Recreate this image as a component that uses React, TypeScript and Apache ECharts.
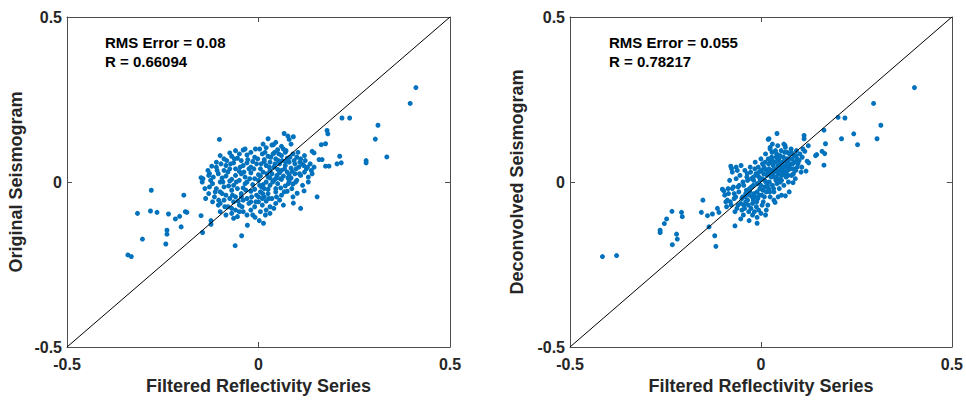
import React, { useEffect, useRef } from "react";
import * as echarts from "echarts";

const tickValues = [-0.5, 0, 0.5];
const xTitle = "Filtered Reflectivity Series";
const yTitles = ["Original Seismogram", "Deconvolved Seismogram"];
const stats = [
  ["RMS Error = 0.08", "R = 0.66094"],
  ["RMS Error = 0.055", "R = 0.78217"],
];
const identityLine = [[-0.5, -0.5], [0.5, 0.5]];

// Filtered reflectivity (x) vs original seismogram (y)
const originalPairs: number[][] = [
  [0.411, 0.286], [0.396, 0.238], [0.218, 0.194], [0.238, 0.194], [0.312, 0.172], [0.305, 0.13],
  [0.335, 0.076], [0.281, 0.065], [0.281, 0.058], [0.212, 0.078], [0.216, 0.058], [0.205, 0.055],
  [0.184, 0.048], [0.175, 0.048], [0.179, 0.156], [0.181, 0.146], [0.175, 0.116], [0.164, 0.113],
  [0.14, 0.093], [0.145, 0.088], [0.158, 0.068], [0.166, 0.068], [0.153, -0.045], [0.119, -0.027],
  [0.11, -0.08], [0.091, -0.064], [0.101, -0.034], [0.067, 0.147], [0.077, 0.139], [0.08, 0.129],
  [0.091, 0.137], [0.025, 0.131], [0.039, 0.113], [-0.102, 0.129], [-0.341, -0.221], [-0.332, -0.226],
  [-0.303, -0.173], [-0.316, -0.095], [-0.282, -0.088], [-0.265, -0.092], [-0.28, -0.025], [-0.242, -0.188],
  [-0.239, -0.146], [-0.239, -0.158], [-0.235, -0.097], [-0.217, -0.112], [-0.206, -0.104], [-0.202, -0.136],
  [-0.195, -0.04], [-0.191, -0.09], [-0.187, -0.092], [-0.15, -0.102], [-0.146, -0.153], [-0.124, -0.117],
  [-0.124, -0.128], [-0.061, -0.193], [-0.044, -0.163], [-0.029, -0.131], [-0.009, -0.107], [0.002, -0.117],
  [0.013, -0.125], [-0.15, 0.013], [-0.147, 0.0], [-0.122, 0.048], [-0.128, 0.026],
  [-0.06, 0.095], [-0.04, 0.097], [-0.075, 0.088], [0.02, 0.104], [0.035, 0.112], [0.05, 0.098],
  [0.06, 0.108], [0.085, 0.115], [-0.02, 0.09], [0.003, 0.1], [0.07, 0.09],
  [-0.09, 0.07], [-0.1, 0.08], [-0.07, 0.078], [-0.055, 0.072], [-0.03, 0.082], [-0.01, 0.075],
  [0.01, 0.085], [0.025, 0.078], [0.045, 0.07], [0.06, 0.08], [0.075, 0.072], [0.09, 0.085],
  [0.1, 0.075], [0.11, 0.07], [0.12, 0.08], [-0.045, 0.065], [0.03, 0.06], [0.015, 0.068],
  [-0.11, 0.045], [-0.085, 0.05], [-0.075, 0.04], [-0.065, 0.058], [-0.04, 0.05], [-0.02, 0.045],
  [-0.005, 0.055], [0.005, 0.04], [0.02, 0.05], [0.04, 0.045], [0.055, 0.055], [0.07, 0.05],
  [0.085, 0.042], [0.095, 0.055], [0.105, 0.045], [0.125, 0.04], [0.135, 0.055], [0.015, 0.062],
  [-0.03, 0.058], [0.06, 0.035], [0.08, 0.06],
  [-0.13, 0.02], [-0.105, 0.025], [-0.095, 0.012], [-0.08, 0.03], [-0.06, 0.02], [-0.05, 0.032],
  [-0.035, 0.015], [-0.02, 0.028], [-0.01, 0.01], [0.0, 0.022], [0.012, 0.03], [0.025, 0.015],
  [0.035, 0.025], [0.045, 0.01], [0.055, 0.028], [0.065, 0.018], [0.075, 0.03], [0.085, 0.012],
  [0.095, 0.025], [0.11, 0.02], [0.12, 0.03], [0.13, 0.015], [0.14, 0.025], [-0.07, 0.008],
  [0.05, 0.038], [0.08, 0.022], [0.03, 0.035],
  [-0.12, -0.005], [-0.1, 0.0], [-0.09, -0.015], [-0.075, 0.003], [-0.065, -0.01], [-0.05, 0.005],
  [-0.04, -0.018], [-0.03, 0.0], [-0.015, -0.008], [0.0, 0.005], [0.008, -0.015], [0.02, 0.0],
  [0.03, -0.01], [0.04, 0.005], [0.05, -0.005], [0.06, 0.008], [0.07, -0.012], [0.08, 0.002],
  [0.09, -0.006], [0.1, 0.005], [0.115, -0.01], [0.13, 0.0], [-0.11, -0.02], [0.015, -0.02],
  [0.045, -0.02], [-0.055, -0.02],
  [-0.13, -0.035], [-0.115, -0.045], [-0.1, -0.03], [-0.085, -0.04], [-0.07, -0.025], [-0.06, -0.045],
  [-0.045, -0.035], [-0.03, -0.05], [-0.02, -0.028], [-0.005, -0.04], [0.005, -0.03], [0.015, -0.045],
  [0.025, -0.035], [0.035, -0.05], [0.045, -0.03], [0.06, -0.04], [0.075, -0.028], [0.09, -0.045],
  [-0.01, -0.022], [0.01, -0.05],
  [-0.12, -0.06], [-0.105, -0.07], [-0.09, -0.055], [-0.08, -0.075], [-0.065, -0.06], [-0.05, -0.07],
  [-0.04, -0.055], [-0.025, -0.065], [-0.01, -0.075], [0.0, -0.06], [0.01, -0.07], [0.02, -0.058],
  [0.03, -0.075], [0.045, -0.065], [0.055, -0.055], [-0.07, -0.08],
  [-0.1, -0.09], [-0.085, -0.1], [-0.07, -0.095], [-0.06, -0.085], [-0.055, -0.105], [-0.04, -0.09],
  [-0.02, -0.085], [0.005, -0.09], [0.02, -0.085], [0.03, -0.095], [-0.065, -0.11],
  [-0.045, 0.025], [-0.025, 0.04], [0.005, 0.018], [0.028, 0.045], [0.048, 0.02], [0.068, 0.04],
  [0.088, 0.032], [-0.06, 0.04], [-0.035, -0.005], [0.025, -0.022], [0.058, -0.018], [0.078, -0.005],
  [-0.015, 0.062], [0.038, 0.085], [0.052, 0.065], [-0.085, 0.018], [-0.095, -0.035], [-0.075, -0.05],
  [-0.045, -0.045], [0.0, -0.045], [0.012, -0.008], [0.098, 0.04], [0.108, 0.06], [0.118, 0.05],
  [0.065, 0.1], [0.042, 0.09], [-0.05, 0.085], [-0.11, 0.06], [-0.125, 0.005], [-0.14, -0.02],
  [0.03, 0.012], [0.07, 0.062], [-0.02, -0.06], [0.04, -0.08], [0.065, -0.07], [-0.03, -0.1],
  [-0.145, 0.01], [-0.138, -0.05], [-0.132, 0.035], [-0.128, -0.015], [-0.118, 0.015], [-0.113, -0.03],
  [-0.108, 0.035], [-0.104, -0.055], [-0.098, 0.055], [-0.093, 0.0], [-0.088, -0.075], [-0.083, 0.065],
  [-0.078, -0.012], [-0.073, 0.055], [-0.068, -0.04], [-0.063, 0.07], [-0.058, 0.0], [-0.053, -0.058],
  [-0.048, 0.045], [-0.043, -0.075], [-0.038, 0.03], [-0.033, -0.025], [-0.028, 0.068], [-0.023, 0.01],
  [-0.018, -0.045], [-0.012, 0.04], [-0.007, -0.06], [-0.002, 0.07], [0.003, -0.01], [0.007, 0.055],
  [0.011, -0.035], [0.017, 0.09], [0.022, 0.025], [0.027, -0.05], [0.032, 0.075], [0.037, 0.0],
  [0.043, 0.055], [0.047, -0.045], [0.053, 0.085], [0.057, 0.01], [0.062, 0.065], [0.067, -0.03],
  [0.072, 0.095], [0.077, 0.012], [0.082, 0.075], [0.087, -0.02], [0.093, 0.065], [0.097, 0.0],
  [0.103, 0.09], [0.107, 0.025], [0.113, 0.055], [0.122, 0.065], [0.128, 0.045], [0.138, 0.035],
  [0.145, 0.045], [-0.008, 0.1], [0.012, 0.115], [0.045, 0.12], [-0.035, 0.1], [-0.05, -0.09],
  [-0.015, -0.1], [0.018, -0.1], [-0.09, 0.035], [-0.1, -0.065],
];

// Filtered reflectivity (x) vs deconvolved seismogram (y)
const deconvolvedPairs: number[][] = [
  [0.402, 0.286], [0.295, 0.238], [0.202, 0.196], [0.22, 0.194], [0.314, 0.172], [0.243, 0.146],
  [0.304, 0.131], [0.211, 0.131], [0.253, 0.113], [0.165, 0.157], [0.169, 0.116], [0.16, 0.093],
  [0.167, 0.086], [0.165, 0.051], [0.143, 0.08], [0.146, 0.083], [0.113, 0.141], [0.113, 0.131],
  [0.124, 0.11], [0.115, 0.093], [0.121, 0.063], [0.125, 0.058], [0.118, 0.033],
  [-0.415, -0.226], [-0.378, -0.223], [-0.232, -0.19], [-0.221, -0.158], [-0.219, -0.173],
  [-0.264, -0.146], [-0.264, -0.153], [-0.253, -0.126], [-0.247, -0.112], [-0.233, -0.089],
  [-0.208, -0.092], [-0.206, -0.105], [-0.152, -0.055], [-0.156, -0.092], [-0.14, -0.102],
  [-0.127, -0.097], [-0.136, -0.136], [-0.121, -0.163], [-0.118, -0.195], [-0.114, -0.08],
  [-0.11, -0.092], [-0.101, -0.022], [-0.097, -0.027], [-0.068, -0.133], [-0.053, -0.112],
  [-0.031, -0.117], [-0.01, -0.125], [-0.01, -0.107], [-0.079, 0.048], [-0.077, 0.041],
  [0.019, 0.129], [0.021, 0.131], [0.042, 0.147], [0.063, 0.111], [0.024, 0.105], [0.064, -0.042],
  [0.037, -0.062], [0.084, -0.002],
  [-0.075, -0.02], [-0.07, -0.05], [-0.065, 0.01], [-0.06, -0.07], [-0.058, -0.03], [-0.055, 0.02],
  [-0.05, -0.085], [-0.048, -0.045], [-0.045, -0.01], [-0.042, 0.035], [-0.04, -0.06], [-0.038, -0.025],
  [-0.035, 0.005], [-0.032, -0.09], [-0.03, -0.04], [-0.028, 0.045], [-0.025, -0.015], [-0.022, -0.065],
  [-0.02, 0.015], [-0.018, -0.035], [-0.015, 0.06], [-0.012, -0.075], [-0.01, -0.005], [-0.008, -0.05],
  [-0.005, 0.03], [-0.003, -0.02], [0.0, -0.095], [0.0, 0.07], [0.002, -0.04], [0.004, 0.01],
  [0.006, -0.06], [0.008, 0.045], [0.01, -0.015], [0.012, 0.085], [0.014, -0.03], [0.016, 0.02],
  [0.018, -0.07], [0.02, 0.055], [0.022, 0.0], [0.024, -0.045], [0.026, 0.035], [0.028, 0.075],
  [0.03, -0.01], [0.032, 0.05], [0.034, -0.03], [0.036, 0.015], [0.038, 0.095], [0.04, 0.04],
  [0.042, -0.005], [0.044, 0.065], [0.046, 0.025], [0.048, -0.02], [0.05, 0.08], [0.052, 0.045],
  [0.054, 0.005], [0.056, 0.06], [0.058, 0.03], [0.06, -0.01], [0.062, 0.09], [0.064, 0.05],
  [0.066, 0.015], [0.068, 0.07], [0.07, 0.035], [0.072, 0.0], [0.075, 0.085], [0.078, 0.055],
  [0.08, 0.02], [0.082, 0.07], [0.085, 0.04], [0.088, 0.06], [0.09, 0.01], [0.092, 0.08],
  [0.095, 0.045], [0.1, 0.065], [0.105, 0.03], [0.108, 0.075], [-0.08, -0.06], [-0.082, 0.005],
  [-0.085, -0.035], [-0.09, -0.075], [-0.068, -0.09], [-0.062, 0.035], [-0.052, 0.05], [-0.046, -0.1],
  [-0.036, 0.025], [-0.026, -0.08], [-0.016, 0.04], [-0.006, -0.085], [0.004, 0.055], [0.014, -0.085],
  [0.024, 0.1], [0.034, -0.055], [0.044, 0.11], [0.054, -0.04], [0.064, 0.105], [0.074, -0.03],
  [-0.01, 0.02], [0.0, -0.01], [0.01, 0.005], [0.02, 0.025], [0.03, 0.02], [-0.02, -0.01],
  [-0.03, -0.02], [0.04, 0.015], [0.05, 0.035], [0.06, 0.045], [-0.04, -0.035], [-0.05, -0.05],
  [0.015, 0.035], [0.025, 0.06], [-0.015, -0.045], [0.035, 0.03], [0.045, 0.05], [0.055, 0.02],
  [-0.025, 0.01], [0.005, -0.025], [-0.035, -0.055], [-0.045, -0.07], [0.065, 0.03], [0.075, 0.05],
  [0.085, 0.025], [-0.06, -0.015], [-0.07, -0.035], [0.095, 0.07], [0.02, -0.02], [0.01, 0.04],
  [-0.005, 0.015], [0.03, 0.065], [-0.02, -0.055], [0.04, 0.075], [0.05, 0.0], [-0.01, -0.03],
  [0.07, 0.06], [0.08, 0.09],
  [-0.095, -0.04], [-0.088, -0.055], [-0.078, -0.07], [-0.072, -0.015], [-0.066, -0.045], [-0.063, -0.08],
  [-0.057, -0.01], [-0.053, -0.065], [-0.047, 0.0], [-0.043, -0.08], [-0.041, -0.045], [-0.037, 0.015],
  [-0.033, -0.07], [-0.029, -0.03], [-0.027, 0.03], [-0.023, -0.045], [-0.019, 0.005], [-0.017, -0.09],
  [-0.013, 0.025], [-0.011, -0.06], [-0.007, 0.045], [-0.004, -0.04], [-0.002, 0.005], [0.001, 0.035],
  [0.003, -0.07], [0.007, 0.025], [0.009, -0.045], [0.011, 0.06], [0.013, 0.0], [0.017, -0.01],
  [0.019, 0.07], [0.021, 0.04], [0.023, -0.03], [0.027, 0.015], [0.029, 0.09], [0.031, 0.035],
  [0.033, -0.02], [0.037, 0.06], [0.039, 0.005], [0.041, 0.085], [0.043, 0.03], [0.047, 0.07],
  [0.049, 0.01], [0.051, 0.055], [0.053, 0.095], [0.057, 0.04], [0.059, 0.075], [0.061, 0.025],
  [0.063, 0.065], [0.067, 0.045], [0.069, 0.09], [0.071, 0.02], [0.073, 0.07], [0.077, 0.04],
  [0.079, 0.1], [0.083, 0.055], [0.087, 0.08], [0.091, 0.035], [0.093, 0.095], [0.097, 0.055],
  [0.102, 0.085], [0.107, 0.045], [0.11, 0.1], [0.012, -0.1], [-0.022, -0.1], [0.045, -0.045],
  [0.06, 0.115], [0.03, 0.115], [-0.065, 0.045], [-0.075, 0.03], [-0.086, -0.02], [-0.092, -0.06],
];

const FONT = '"Liberation Sans", Arial, sans-serif';
const TEXT = "#262626";
const AXIS = "#4d4d4d";
const BLUE = "#0072BD";

export default function App() {
  const ref = useRef<HTMLDivElement>(null);
  useEffect(() => {
    if (!ref.current) return;
    const chart = echarts.init(ref.current, null, { renderer: "svg" });
    const grids = [
      { left: 67, top: 17, width: 383, height: 332 },
      { left: 570, top: 17, width: 383, height: 332 },
    ];
    const baseAxis = {
      type: "value" as const,
      min: tickValues[0],
      max: tickValues[tickValues.length - 1],
      interval: 0.5,
      splitLine: { show: false },
      axisLine: { show: true, onZero: false, lineStyle: { color: AXIS, width: 1 } },
      axisTick: { show: true, inside: true, length: 5, lineStyle: { color: AXIS } },
    };
    const xAxis: any[] = [];
    const yAxis: any[] = [];
    [0, 1].forEach((g) => {
      xAxis.push({
        ...baseAxis,
        gridIndex: g,
        position: "bottom",
        name: xTitle,
        nameLocation: "middle",
        nameGap: 30,
        nameTextStyle: { fontFamily: FONT, fontWeight: "bold", fontSize: 18, color: TEXT },
        axisLabel: { fontFamily: FONT, fontWeight: "bold", fontSize: 16, color: TEXT, margin: 9 },
      });
      xAxis.push({ ...baseAxis, gridIndex: g, position: "top", axisLabel: { show: false } });
      yAxis.push({
        ...baseAxis,
        gridIndex: g,
        position: "left",
        name: yTitles[g],
        nameLocation: "middle",
        nameGap: g === 0 ? 42 : 44,
        nameTextStyle: { fontFamily: FONT, fontWeight: "bold", fontSize: 18, color: TEXT },
        axisLabel: { fontFamily: FONT, fontWeight: "bold", fontSize: 16, color: TEXT, margin: 5 },
      });
      yAxis.push({ ...baseAxis, gridIndex: g, position: "right", axisLabel: { show: false } });
    });
    const graphic: any[] = [];
    const annLeft = [105, 609];
    stats.forEach((lines, g) => {
      lines.forEach((t, i) => {
        graphic.push({
          type: "text",
          x: annLeft[g],
          y: 42 + i * 19,
          style: {
            text: t,
            font: `bold 15px ${FONT}`,
            fill: "#000",
            verticalAlign: "middle",
            align: "left",
          },
        });
      });
    });
    chart.setOption({
      animation: false,
      backgroundColor: "#fff",
      grid: grids,
      xAxis,
      yAxis,
      graphic,
      series: [
        {
          type: "scatter",
          xAxisIndex: 0,
          yAxisIndex: 0,
          data: originalPairs,
          symbol: "circle",
          symbolSize: 5,
          itemStyle: { color: BLUE, opacity: 1 },
          z: 3,
        },
        {
          type: "line",
          xAxisIndex: 0,
          yAxisIndex: 0,
          data: identityLine,
          symbol: "none",
          lineStyle: { color: "#000", width: 1 },
          z: 4,
        },
        {
          type: "scatter",
          xAxisIndex: 2,
          yAxisIndex: 2,
          data: deconvolvedPairs,
          symbol: "circle",
          symbolSize: 5,
          itemStyle: { color: BLUE, opacity: 1 },
          z: 3,
        },
        {
          type: "line",
          xAxisIndex: 2,
          yAxisIndex: 2,
          data: identityLine,
          symbol: "none",
          lineStyle: { color: "#000", width: 1 },
          z: 4,
        },
      ],
    });
    return () => chart.dispose();
  }, []);
  return (
    <div
      ref={ref}
      style={{ position: "fixed", left: 0, top: 0, width: 966, height: 400, background: "#fff" }}
    />
  );
}
